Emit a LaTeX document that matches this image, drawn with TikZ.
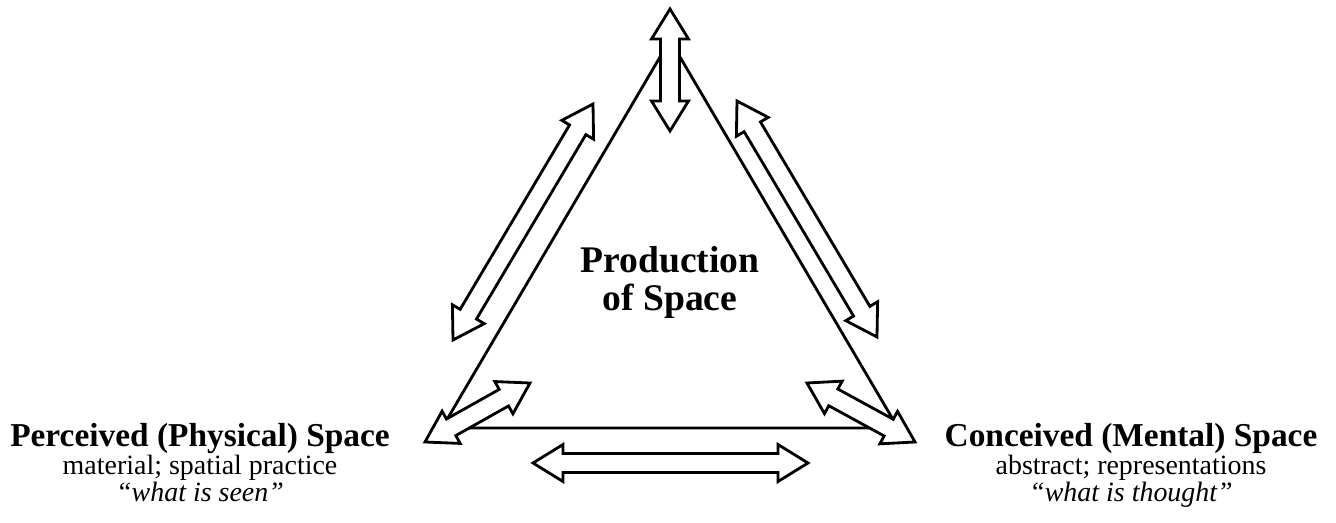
\documentclass[tikz,border=0pt]{standalone}
\usepackage{fontspec}
\setmainfont{Liberation Serif}
\usetikzlibrary{positioning,calc}

\newcommand{\headlen}{0.6cm}
\newcommand{\headw}{0.37cm}
\newcommand{\shaftw}{0.19cm}
% hollow double-headed block arrow from tip #1 to tip #2
\newcommand{\dblarrow}[2]{%
  \path ($(#1)!\headlen!(#2)$) coordinate (ha) ($(#2)!\headlen!(#1)$) coordinate (hb);
  \draw[blk] (#1) -- ($(ha)!\headw!90:(#2)$) -- ($(ha)!\shaftw!90:(#2)$)
    -- ($(hb)!\shaftw!-90:(#1)$) -- ($(hb)!\headw!-90:(#1)$) -- (#2)
    -- ($(hb)!\headw!90:(#1)$) -- ($(hb)!\shaftw!90:(#1)$)
    -- ($(ha)!\shaftw!-90:(#2)$) -- ($(ha)!\headw!-90:(#2)$) -- cycle;
}

\begin{document}
\begin{tikzpicture}[
  x=0.02cm, y=-0.02cm,
  line width=1.6pt,
  edge/.style={draw,line join=round},
  blk/.style={draw,fill=white,line join=miter},
  ttl/.style={font=\fontsize{21.4}{24}\selectfont\bfseries,anchor=base},
  lbl/.style={font=\fontsize{19}{22}\selectfont\bfseries,anchor=base},
  sub/.style={font=\fontsize{15.9}{18}\selectfont,anchor=base},
  quo/.style={font=\fontsize{15.9}{18}\selectfont\itshape,anchor=base},
]
  \useasboundingbox (0,0) rectangle (1336,523);

  % triangle
  \coordinate (apex) at (670,40);
  \coordinate (lft)  at (442,428);
  \coordinate (rgt)  at (898,428);
  \draw[edge] (apex) -- (lft) -- (rgt) -- cycle;

  % arrow tips
  \coordinate (top-a) at (670,9);   \coordinate (top-b) at (670,131);
  \coordinate (ls-a)  at (593,104); \coordinate (ls-b)  at (453,340);
  \coordinate (rs-a)  at (737,101); \coordinate (rs-b)  at (877,337);
  \coordinate (bl-a)  at (425,442); \coordinate (bl-b)  at (530,383);
  \coordinate (br-a)  at (807,383); \coordinate (br-b)  at (915,442);
  \coordinate (bt-a)  at (533,463); \coordinate (bt-b)  at (808,463);

  \dblarrow{top-a}{top-b}
  \dblarrow{ls-a}{ls-b}
  \dblarrow{rs-a}{rs-b}
  \dblarrow{bl-a}{bl-b}
  \dblarrow{br-a}{br-b}
  \dblarrow{bt-a}{bt-b}

  % centre
  \node[ttl] (prod) at (670,273) {Production};
  \node[ttl] (ofsp) at ([yshift=-0.76cm]prod.base) {of Space};

  % left corner
  \node[lbl] (perc)   at (200,447) {Perceived (Physical) Space};
  \node[sub] (perc-s) at ([yshift=-0.56cm]perc.base) {material; spatial practice};
  \node[quo] (perc-q) at ([yshift=-0.54cm]perc-s.base) {“what is seen”};

  % right corner
  \node[lbl] (conc)   at (1131,447) {Conceived (Mental) Space};
  \node[sub] (conc-s) at ([yshift=-0.56cm]conc.base) {abstract; representations};
  \node[quo] (conc-q) at ([yshift=-0.54cm]conc-s.base) {“what is thought”};
\end{tikzpicture}
\end{document}
